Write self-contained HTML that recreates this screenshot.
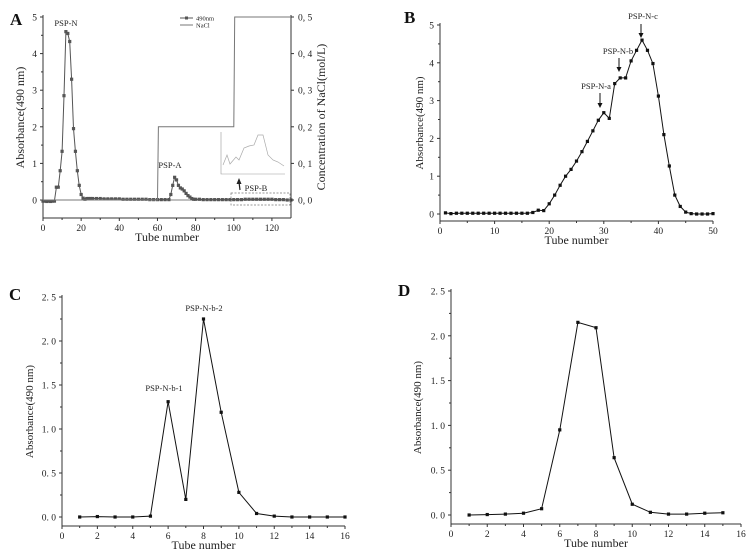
<!DOCTYPE html>
<html><head><meta charset="utf-8">
<style>
html,body{margin:0;padding:0;background:#fff;}
svg{display:block;font-family:"Liberation Serif",serif;}
</style></head>
<body>
<svg id="fig" width="747" height="558" viewBox="0 0 747 558" xmlns="http://www.w3.org/2000/svg"></svg>
<script>
// Panel A data
const aTubes = [0,1,2,3,4,5,6,7,8,9,10,11,12,13,14,15,16,17,18,19,20,21,22,23,24,25,26,28,30,32,34,36,38,40,42,44,46,48,50,52,54,56,58,60,62,64,66,67,68,69,70,71,72,73,74,75,76,77,78,79,80,82,84,86,88,90,92,94,96,98,100,102,104,106,108,110,112,114,116,118,120,122,124,126,128,130];
const aAbs   = [-0.03,-0.03,-0.04,-0.03,-0.04,-0.03,-0.03,0.35,0.35,0.8,1.33,2.85,4.6,4.55,4.33,3.3,1.95,1.33,0.8,0.4,0.15,0.05,0.02,0.04,0.04,0.04,0.04,0.04,0.04,0.03,0.03,0.03,0.03,0.03,0.02,0.02,0.02,0.02,0.02,0.02,0.02,0.01,0.01,0.01,0.01,0.01,0.01,0.15,0.4,0.62,0.55,0.4,0.33,0.3,0.25,0.18,0.12,0.08,0.04,0.02,0.02,0.02,0.01,0.01,0.01,0.01,0.01,0.01,0.01,0.01,0.01,0.01,0.01,0.02,0.02,0.02,0.02,0.02,0.02,0.02,0.02,0.01,0.01,0.01,0.0,0.0];
const naclX = [0,60,60.5,100,100.5,130];
const naclY = [0,0,0.2,0.2,0.5,0.5];
// Panel B data
const bTubes = [1,2,3,4,5,6,7,8,9,10,11,12,13,14,15,16,17,18,19,20,21,22,23,24,25,26,27,28,29,30,31,32,33,34,35,36,37,38,39,40,41,42,43,44,45,46,47,48,49,50];
const bAbs = [0.03,0.01,0.02,0.02,0.02,0.02,0.02,0.02,0.02,0.02,0.02,0.02,0.02,0.02,0.02,0.02,0.04,0.1,0.09,0.27,0.5,0.76,1.0,1.18,1.4,1.65,1.92,2.2,2.48,2.68,2.53,3.45,3.6,3.6,4.05,4.33,4.6,4.33,3.98,3.12,2.1,1.27,0.5,0.2,0.05,0.01,0,0,0,0.01];
// Panel C data
const cTubes = [1,2,3,4,5,6,7,8,9,10,11,12,13,14,15,16];
const cAbs = [0,0.005,0,0,0.01,1.31,0.2,2.25,1.19,0.28,0.04,0.01,0,0,0,0];
// Panel D data
const dTubes = [1,2,3,4,5,6,7,8,9,10,11,12,13,14,15];
const dAbs = [0,0.005,0.01,0.02,0.07,0.95,2.15,2.09,0.64,0.12,0.03,0.01,0.01,0.02,0.025];
// tick labels
const aXTicks = [0,20,40,60,80,100,120];
const aYTicks = [0,1,2,3,4,5];
const aRTicks = ["0.0","0.1","0.2","0.3","0.4","0.5"];
const bXTicks = [0,10,20,30,40,50];
const bYTicks = [0,1,2,3,4,5];
const cdXTicks = [0,2,4,6,8,10,12,14,16];
const cdYTicks = [0,0.5,1.0,1.5,2.0,2.5];

const NS="http://www.w3.org/2000/svg";
const svg=document.getElementById('fig');
function mk(tag,attrs,parent){const e=document.createElementNS(NS,tag);for(const k in attrs)e.setAttribute(k,attrs[k]);(parent||svg).appendChild(e);return e;}
function txt(s,x,y,size,anchor,parent,extra){const t=mk('text',Object.assign({x:x,y:y,'font-size':size,'text-anchor':anchor||'middle',fill:'#222'},extra||{}),parent);t.textContent=s;return t;}

function panel(o){
  const g=mk('g',{});
  
  
  const sx=v=>o.x0+(v-o.xmin)/(o.xmax-o.xmin)*(o.x1-o.x0);
  const sy=v=>o.y0-(v-0)/(o.ymaxv)*(o.y0-o.ytop);
  // axes
  const ax=mk('line',{x1:o.x0,y1:o.yb,x2:o.x1,y2:o.yb,stroke:'#333','stroke-width':1},g);
  
  const ay=mk('line',{x1:o.x0,y1:o.yb,x2:o.x0,y2:o.ytop-2,stroke:'#333','stroke-width':1},g);
  
  o.xt.forEach((v,i)=>{const X=sx(v);mk('line',{x1:X,y1:o.yb,x2:X,y2:o.yb+3,stroke:'#333'},g);
    const t=txt(String(v),X,o.yb+13,9.5,'middle',g);
    if(i<o.xt.length-1){const m=sx((v+o.xt[i+1])/2);mk('line',{x1:m,y1:o.yb,x2:m,y2:o.yb+2,stroke:'#333'},g);}});
  o.yt.forEach((v,i)=>{const Y=sy(v);mk('line',{x1:o.x0,y1:Y,x2:o.x0-3,y2:Y,stroke:'#333'},g);
    const t=txt(o.yfmt?v.toFixed(1).replace('.','. '):String(v),o.x0-6,Y+3.5,9.5,'end',g);
    if(i<o.yt.length-1){const m=sy((v+o.yt[i+1])/2);mk('line',{x1:o.x0,y1:m,x2:o.x0-2,y2:m,stroke:'#333'},g);}});
  const xt=txt('Tube number',(o.x0+o.x1)/2,o.yb+23,12,'middle',g);
  
  const yx=o.ytitleX, yy=(o.ytop+o.yb)/2;
  const yt=txt('Absorbance(490 nm)',yx,yy,o.ytsize||11,'middle',g,{transform:`rotate(-90 ${yx} ${yy})`});
  
  const L=mk('text',{x:o.lx,y:o.ly,'font-size':17,'font-weight':'bold',fill:'#111'},g);L.textContent=o.letter;
  
  // series
  const pts=o.xs.map((v,i)=>sx(v).toFixed(1)+','+sy(o.ys[i]).toFixed(1)).join(' ');
  const pl=mk('polyline',{points:pts,fill:'none',stroke:o.lineColor||'#111','stroke-width':1},g);
  
  o.xs.forEach((v,i)=>{const r=mk('rect',{x:sx(v)-1.6,y:sy(o.ys[i])-1.6,width:3.2,height:3.2,fill:o.lineColor||'#111'},g);
    });
  return {g,sx,sy};
}

// Panel A
const A=panel({name:'panel-a',letter:'A',lx:10,ly:25,x0:43,x1:291,xmin:0,xmax:130,y0:200,ytop:17,yb:218,ymaxv:5,
  xt:aXTicks,yt:aYTicks,xs:aTubes,ys:aAbs,ytitleX:24,ytsize:12,lineColor:'#555'});
// right axis & zero line
mk('line',{x1:291,y1:218,x2:291,y2:15,stroke:'#333'},A.g);
mk('line',{x1:43,y1:A.sy(0),x2:291,y2:A.sy(0),stroke:'#555','stroke-width':0.8},A.g);
aRTicks.forEach((s,i)=>{const Y=A.sy(i);mk('line',{x1:291,y1:Y,x2:294,y2:Y,stroke:'#333'},A.g);
  const t=txt(s.replace('.',', '),298,Y+3.5,9.5,'start',A.g);});
{const rt=txt('Concentration of NaCl(mol/L)',325,117,12,'middle',A.g,{transform:'rotate(-90 325 117)'});
}
{const pts=naclX.map((v,i)=>A.sx(v).toFixed(1)+','+A.sy(naclY[i]*10).toFixed(1)).join(' ');
const nl=mk('polyline',{points:pts,fill:'none',stroke:'#777','stroke-width':1},A.g);
}
// legend
{const lg=mk('g',{},A.g);
mk('line',{x1:180,y1:18,x2:193,y2:18,stroke:'#555'},lg);mk('rect',{x:185,y:16.5,width:3,height:3,fill:'#555'},lg);
txt('490nm',196,20.5,6.5,'start',lg);
mk('line',{x1:180,y1:25,x2:193,y2:25,stroke:'#777'},lg);txt('NaCl',196,27.5,6.5,'start',lg);}
[['PSP-N',66,26],['PSP-A',170,168],['PSP-B',256,191]].forEach(([s,x,y])=>{const t=txt(s,x,y,8.5,'middle',A.g);});
// dashed box and arrow
mk('rect',{x:231,y:193,width:59,height:12,fill:'none',stroke:'#777','stroke-dasharray':'2,1.5','stroke-width':0.7},A.g);
mk('line',{x1:240,y1:190,x2:239,y2:182,stroke:'#222','stroke-width':1.2},A.g);
mk('polygon',{points:'239,178 236.5,184 241.5,184',fill:'#222'},A.g);
// inset
{const ig=mk('g',{},A.g);
mk('polyline',{points:'221,132 221,174 285,174',fill:'none',stroke:'#999','stroke-width':0.6},ig);
mk('polyline',{points:'223,165 227,155 230,164 236,157 239,160 244,148 249,146 254,145 258,135 263,135 268,155 273,160 278,162 284,166',fill:'none',stroke:'#aaa','stroke-width':0.7},ig);}

// Panel B
const B=panel({name:'panel-b',letter:'B',lx:404,ly:23,x0:440,x1:713,xmin:0,xmax:50,y0:214,ytop:25,yb:221,ymaxv:5,
  xt:bXTicks,yt:bYTicks,xs:bTubes,ys:bAbs,ytitleX:423});
[['PSP-N-c',643,19,641,24,38],['PSP-N-b',618,54,619,58,72],['PSP-N-a',596,89,600,93,108]].forEach(([s,x,y,ax,a1,a2])=>{
  const t=txt(s,x,y,8.5,'middle',B.g);
  mk('line',{x1:ax,y1:a1,x2:ax,y2:a2-3,stroke:'#111'},B.g);
  mk('polygon',{points:`${ax},${a2} ${ax-2.5},${a2-5} ${ax+2.5},${a2-5}`,fill:'#111'},B.g);});

// Panel C
const C=panel({name:'panel-c',letter:'C',lx:9,ly:300,x0:62,x1:345,xmin:0,xmax:16,y0:517,ytop:297,yb:526,ymaxv:2.5,
  xt:cdXTicks,yt:cdYTicks,yfmt:true,xs:cTubes,ys:cAbs,ytitleX:33});
[['PSP-N-b-1',164,391],['PSP-N-b-2',204,311]].forEach(([s,x,y])=>{const t=txt(s,x,y,8.5,'middle',C.g);});

// Panel D
const D=panel({name:'panel-d',letter:'D',lx:398,ly:296,x0:451,x1:741,xmin:0,xmax:16,y0:515,ytop:291,yb:524,ymaxv:2.5,
  xt:cdXTicks,yt:cdYTicks,yfmt:true,xs:dTubes,ys:dAbs,ytitleX:421});
</script>
</body></html>
